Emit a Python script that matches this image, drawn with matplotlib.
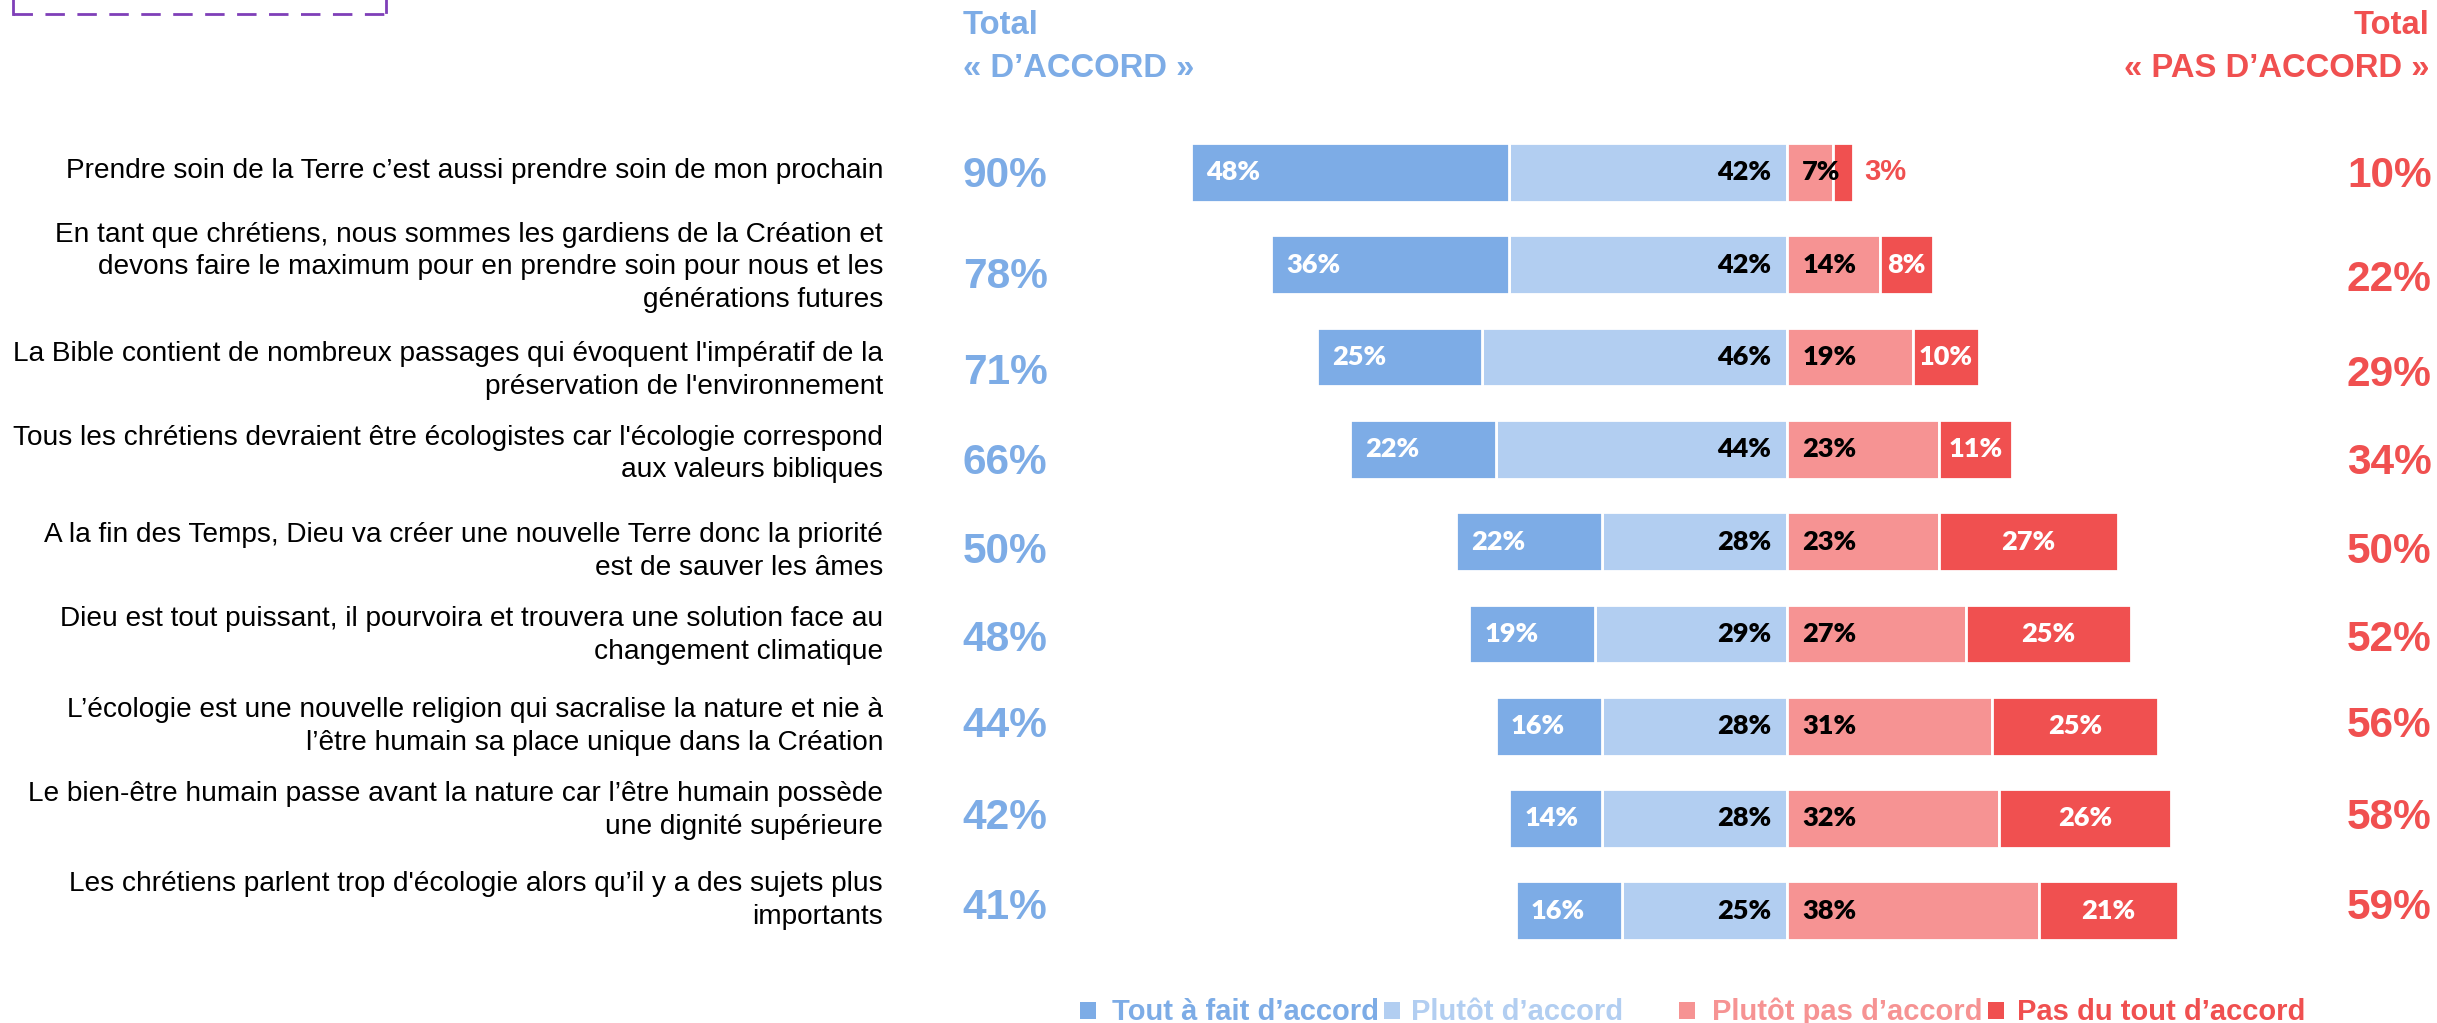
import matplotlib
matplotlib.use("Agg")
import matplotlib.pyplot as plt
import matplotlib.transforms as mtransforms
from matplotlib.patches import Rectangle
from matplotlib.lines import Line2D

# ---------------- data ----------------
statements = [
    "Prendre soin de la Terre c\u2019est aussi prendre soin de mon prochain",
    "En tant que chrétiens, nous sommes les gardiens de la Création et\ndevons faire le maximum pour en prendre soin pour nous et les\ngénérations futures",
    "La Bible contient de nombreux passages qui évoquent l'impératif de la\npréservation de l'environnement",
    "Tous les chrétiens devraient être écologistes car l'écologie correspond\naux valeurs bibliques",
    "A la fin des Temps, Dieu va créer une nouvelle Terre donc la priorité\nest de sauver les âmes",
    "Dieu est tout puissant, il pourvoira et trouvera une solution face au\nchangement climatique",
    "L\u2019écologie est une nouvelle religion qui sacralise la nature et nie à\nl\u2019être humain sa place unique dans la Création",
    "Le bien-être humain passe avant la nature car l\u2019être humain possède\nune dignité supérieure",
    "Les chrétiens parlent trop d'écologie alors qu\u2019il y a des sujets plus\nimportants",
]
tout_a_fait = [48, 36, 25, 22, 22, 19, 16, 14, 16]
plutot_accord = [42, 42, 46, 44, 28, 29, 28, 28, 25]
plutot_pas = [7, 14, 19, 23, 23, 27, 31, 32, 38]
pas_du_tout = [3, 8, 10, 11, 27, 25, 25, 26, 21]
total_accord = [90, 78, 71, 66, 50, 48, 44, 42, 41]
total_pas = [10, 22, 29, 34, 50, 52, 56, 58, 59]
legend_labels = ["Tout à fait d\u2019accord", "Plutôt d\u2019accord",
                 "Plutôt pas d\u2019accord", "Pas du tout d\u2019accord"]
header_left = ["Total", "« D\u2019ACCORD »"]
header_right = ["Total", "« PAS D\u2019ACCORD »"]

# ---------------- style ----------------
C_DARKBLUE = "#7DACE6"
C_LIGHTBLUE = "#B2CEF1"
C_PINK = "#F69393"
C_RED = "#F05050"
C_PURPLE = "#7F3FB8"
colors = [C_DARKBLUE, C_LIGHTBLUE, C_PINK, C_RED]
ARIAL = "Liberation Sans"
CAL = "Lato"

W, H = 2437, 1023
fig = plt.figure(figsize=(W / 100, H / 100), dpi=100)
fig.patch.set_facecolor("white")

# axes geometry (pixel-based)
zero_px = 1787.0
px_per = 6.62
xmin, xmax = -100, 95
row0 = 172.4
rstep = 92.3
n = len(statements)
ax_left = zero_px + xmin * px_per
ax_right = zero_px + xmax * px_per
ax_top = row0 - 0.5 * rstep
ax_bot = row0 + (n - 0.5) * rstep
ax = fig.add_axes([ax_left / W, 1 - ax_bot / H, (ax_right - ax_left) / W, (ax_bot - ax_top) / H])
ax.set_xlim(xmin, xmax)
ax.set_ylim(n - 0.5, -0.5)
ax.axis("off")

ys = list(range(n))
bh = 0.636
neg1 = [-v for v in tout_a_fait]
neg2 = [-v for v in plutot_accord]
ax.barh(ys, neg2, left=0, height=bh, color=C_LIGHTBLUE, edgecolor="white", linewidth=2)
ax.barh(ys, neg1, left=neg2, height=bh, color=C_DARKBLUE, edgecolor="white", linewidth=2)
ax.barh(ys, plutot_pas, left=0, height=bh, color=C_PINK, edgecolor="white", linewidth=2)
ax.barh(ys, pas_du_tout, left=plutot_pas, height=bh, color=C_RED, edgecolor="white", linewidth=2)

lab_fs = 19.5
for i in ys:
    left_end = -(tout_a_fait[i] + plutot_accord[i])
    ax.text(left_end + 2.3, i, f"{tout_a_fait[i]}%", ha="left", va="center",
            color="white", fontsize=lab_fs, fontweight="heavy", family=CAL)
    ax.text(-2.4, i, f"{plutot_accord[i]}%", ha="right", va="center",
            color="black", fontsize=lab_fs, fontweight="heavy", family=CAL)
    ax.text(2.3, i, f"{plutot_pas[i]}%", ha="left", va="center",
            color="black", fontsize=lab_fs, fontweight="heavy", family=CAL)
    right_end = plutot_pas[i] + pas_du_tout[i]
    if pas_du_tout[i] < 6:
        ax.text(right_end + 1.6, i, f"{pas_du_tout[i]}%", ha="left", va="center",
                color=C_RED, fontsize=21, fontweight="bold", family=ARIAL)
    else:
        ax.text(plutot_pas[i] + pas_du_tout[i] / 2, i, f"{pas_du_tout[i]}%", ha="center",
                va="center", color="white", fontsize=lab_fs, fontweight="heavy", family=CAL)

# left statements & totals
trans = mtransforms.blended_transform_factory(fig.transFigure, ax.transData)
lab_off = [-0.02, 0.03, 0.15, 0.05, 0.11, 0.02, 0.0, -0.09, -0.11]
tl_off = [0.035, 0.13, 0.17, 0.15, 0.11, 0.065, 0.0, 0.0, -0.035]
tr_off = [0.035, 0.17, 0.19, 0.15, 0.11, 0.065, 0.0, 0.0, -0.035]
for i in ys:
    ax.text(883 / W, i + lab_off[i], statements[i], transform=trans, ha="right",
            va="center", fontsize=20.15, family=ARIAL, color="black", linespacing=1.34)
    ax.text(962.7 / W, i + tl_off[i], f"{total_accord[i]}%", transform=trans, ha="left",
            va="center", fontsize=30.5, fontweight="bold", family=ARIAL, color=C_DARKBLUE)
    ax.text(2431.7 / W, i + tr_off[i], f"{total_pas[i]}%", transform=trans, ha="right",
            va="center", fontsize=30.5, fontweight="bold", family=ARIAL, color=C_RED)

# headers
hfs = 23.6
fig.text(962.7 / W, 1 - 26 / H, header_left[0], ha="left", va="center", fontsize=hfs,
         fontweight="bold", family=ARIAL, color=C_DARKBLUE)
fig.text(962.7 / W, 1 - 69 / H, header_left[1], ha="left", va="center", fontsize=hfs,
         fontweight="bold", family=ARIAL, color=C_DARKBLUE)
fig.text(2430 / W, 1 - 26 / H, header_right[0], ha="right", va="center", fontsize=hfs,
         fontweight="bold", family=ARIAL, color=C_RED)
fig.text(2430 / W, 1 - 69 / H, header_right[1], ha="right", va="center", fontsize=hfs,
         fontweight="bold", family=ARIAL, color=C_RED)

# legend
sq_left = [1080, 1384, 1679, 1988]
txt_left = [1112, 1411, 1712, 2017]
for k in range(4):
    fig.add_artist(Rectangle((sq_left[k] / W, 1 - 1019 / H), 16 / W, 17 / H,
                             transform=fig.transFigure, facecolor=colors[k], edgecolor="none"))
    fig.text(txt_left[k] / W, 1 - 1020 / H, legend_labels[k], ha="left", va="baseline",
             fontsize=21, fontweight="bold", family=ARIAL, color=colors[k])

# dashed purple box at top-left (partially cut)
box_kw = dict(transform=fig.transFigure, color=C_PURPLE, linewidth=2)
fig.add_artist(Line2D([13 / W, 386 / W], [1 - 14 / H, 1 - 14 / H], linestyle=(0, (7, 4.5)), **box_kw))
fig.add_artist(Line2D([13 / W, 13 / W], [1 - 14 / H, 1.0], **box_kw))
fig.add_artist(Line2D([386 / W, 386 / W], [1 - 12 / H, 1.0], **box_kw))

fig.savefig("out.png", dpi=100, facecolor="white")
